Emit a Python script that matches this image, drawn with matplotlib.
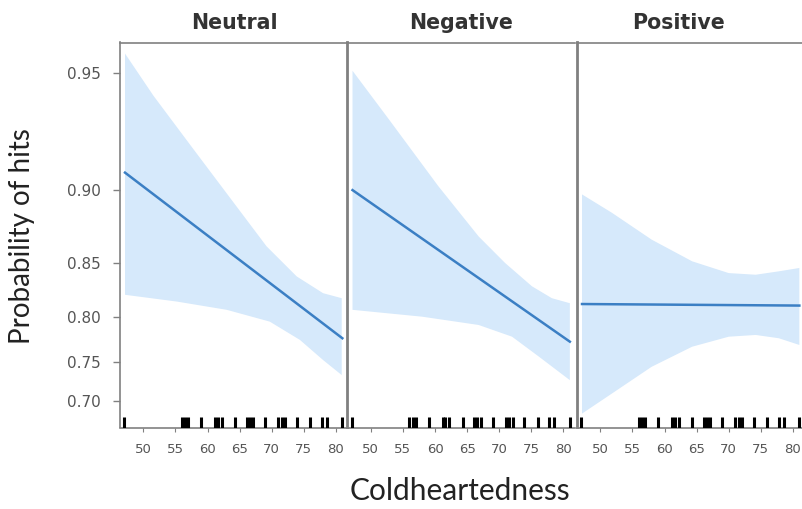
import numpy as np
import matplotlib
matplotlib.use('Agg')
import matplotlib.pyplot as plt
from matplotlib.ticker import NullLocator

panels = ['Neutral', 'Negative', 'Positive']

# fitted line (two ends, straight on the logit scale)
fit_x = [47.15, 81.0]
neutral_fit = [0.9096, 0.7775]
negative_fit = [0.900, 0.7737]
positive_fit = [0.813, 0.8115]

# confidence bands
neutral_up_x = [47.15, 51.6, 57.8, 64.5, 69.2, 73.9, 78.0, 80.9]
neutral_up = [0.9556, 0.9426, 0.9212, 0.8903, 0.8627, 0.8383, 0.8233, 0.8186]
neutral_lo_x = [47.15, 55.2, 63.0, 69.7, 74.4, 78.0, 80.9]
neutral_lo = [0.8218, 0.8154, 0.8073, 0.7953, 0.7756, 0.7525, 0.7342]

negative_up_x = [47.15, 52.8, 60.5, 66.8, 70.9, 75.1, 78.2, 81.0]
negative_up = [0.9507, 0.934, 0.9023, 0.870, 0.8497, 0.8296, 0.8186, 0.8138]
negative_lo_x = [47.15, 58.0, 66.8, 72.0, 76.2, 81.0]
negative_lo = [0.8073, 0.8004, 0.7918, 0.7792, 0.7564, 0.7278]

positive_up_x = [47.15, 51.8, 58.0, 64.3, 70.0, 74.2, 77.8, 81.0]
positive_up = [0.8975, 0.8862, 0.8677, 0.8510, 0.8412, 0.8398, 0.8427, 0.8455]
positive_lo_x = [47.15, 51.8, 58.0, 64.3, 70.0, 74.2, 77.8, 81.0]
positive_lo = [0.6835, 0.7105, 0.7444, 0.7680, 0.7792, 0.7811, 0.7775, 0.770]

# rug of observed coldheartedness scores
rug = [47, 56, 56.5, 57, 59, 61.2, 61.6, 62.2, 64.3, 66.1, 66.6, 67.1, 69,
       71, 71.6, 72.1, 73.9, 76, 77.8, 78.6, 81]

xticks = [50, 55, 60, 65, 70, 75, 80]
yticks = [0.70, 0.75, 0.80, 0.85, 0.90, 0.95]
ytick_labels = ['0.70', '0.75', '0.80', '0.85', '0.90', '0.95']

fits = [neutral_fit, negative_fit, positive_fit]
bands = [(neutral_up_x, neutral_up, neutral_lo_x, neutral_lo),
         (negative_up_x, negative_up, negative_lo_x, negative_lo),
         (positive_up_x, positive_up, positive_lo_x, positive_lo)]

line_col = '#3b7fc4'
band_col = '#d6e9fb'
frame_col = '#808080'
tick_col = '#555555'

fig = plt.figure(figsize=(8.03, 5.09), dpi=100)

lefts = [120 / 803, 347.5 / 803, 577 / 803]
w = 228 / 803
bottom = 1 - 427.5 / 509
h = (427.5 - 42.5) / 509

for i, name in enumerate(panels):
    ax = fig.add_axes([lefts[i], bottom, w, h])
    ux, uy, lx, ly = bands[i]
    px = list(ux) + list(lx)[::-1]
    py = list(uy) + list(ly)[::-1]
    ax.fill(px, py, color=band_col, lw=0, zorder=1)
    ax.plot(fit_x, fits[i], color=line_col, lw=1.8, zorder=3)
    ax.vlines(rug, 0, 0.028, transform=ax.get_xaxis_transform(),
              color='black', lw=2.2, zorder=4)

    ax.set_yscale('logit')
    ax.set_ylim(0.664, 0.9585)
    ax.set_xlim(46.37, 81.88)
    ax.yaxis.set_minor_locator(NullLocator())
    ax.set_xticks(xticks)
    ax.set_xticklabels([str(t) for t in xticks])
    ax.tick_params(axis='x', direction='out', length=3, width=0.8,
                   colors=frame_col, labelcolor=tick_col, labelsize=9.5, pad=8)

    if i == 0:
        ax.set_yticks(yticks)
        ax.set_yticklabels(ytick_labels)
        ax.tick_params(axis='y', direction='out', length=5, width=1,
                       colors=frame_col, labelcolor=tick_col, labelsize=11, pad=9)
    else:
        ax.set_yticks([])

    for s in ['top', 'bottom']:
        ax.spines[s].set_color(frame_col)
        ax.spines[s].set_linewidth(1.2)
    ax.spines['left'].set_color(frame_col)
    ax.spines['left'].set_linewidth(1.2 if i == 0 else 2.0)
    ax.spines['right'].set_visible(False)

    tx = 0.443 if i == 2 else 0.5
    ax.set_title(name, x=tx, fontsize=14.8, fontweight='bold', color='#333333',
                 family='DejaVu Sans', pad=9.6)

fig.text(22 / 803, 1 - 236 / 509, 'Probability of hits', rotation=90,
         ha='center', va='center', fontsize=20, family='Lato', color='#222222')
fig.text(460 / 803, 1 - 500 / 509, 'Coldheartedness', ha='center', va='baseline',
         fontsize=21.5, family='Lato', color='#222222')

fig.savefig('out.png', dpi=100)
